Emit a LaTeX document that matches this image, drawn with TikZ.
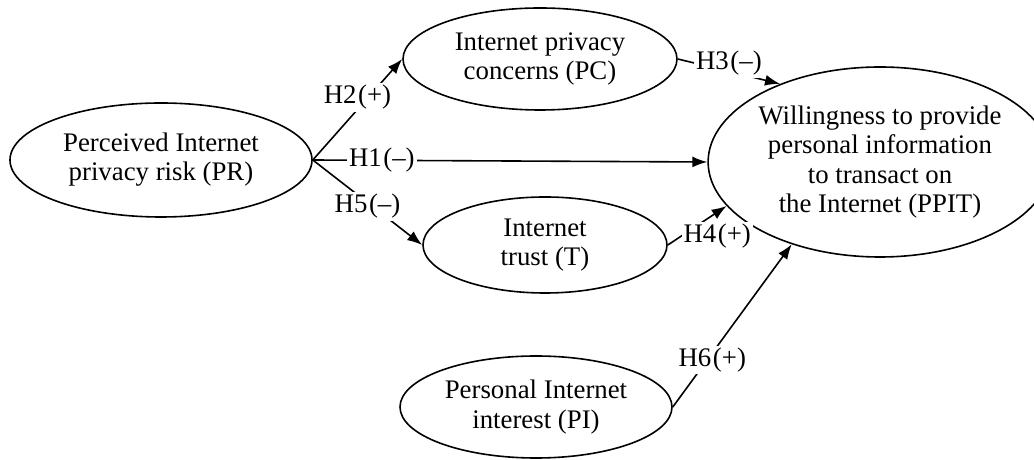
\documentclass[tikz,border=0pt]{standalone}
\usepackage{fontspec}
\setmainfont{Liberation Serif}
\usetikzlibrary{arrows.meta,shapes.geometric}

\begin{document}
\begin{tikzpicture}[x=0.5pt,y=0.5pt,
  var/.style={ellipse,draw,line width=0.8pt,inner sep=0pt,align=center,font=\fontsize{13.4}{14.6}\selectfont},
  hyp/.style={line width=0.8pt,-{Latex[length=7.5pt,width=5.5pt]}},
  hlabel/.style={fill=white,inner sep=1pt,font=\fontsize{13.4}{14.6}\selectfont}]
  \useasboundingbox (0,0) rectangle (1034,460);
  % constructs
  \node[var,minimum width=151pt,minimum height=57pt] (pr) at (161,300) {Perceived Internet\\privacy risk (PR)};
  \node[var,minimum width=137pt,minimum height=51pt] (pc) at (540,401) {Internet privacy\\concerns (PC)};
  \node[var,minimum width=122pt,minimum height=48pt] (tr) at (545,215) {Internet\\trust (T)};
  \node[var,minimum width=136pt,minimum height=51pt] (pin) at (536,53) {Personal Internet\\interest (PI)};
  \node[var,minimum width=151pt,minimum height=95pt] (ppit) at (880,298) {Willingness to provide\\personal information\\to transact on\\the Internet (PPIT)};
  % hypotheses
  \draw[hyp] (pr.east) -- node[hlabel,pos=0.5,yshift=6pt] {H2\kern0.8pt(+)} (pc.west);
  \draw[hyp] (pr.east) -- node[hlabel,pos=0.17,xshift=1pt] {H1\kern0.8pt(--)} (ppit.west);
  \draw[hyp] (pr.east) -- node[hlabel,pos=0.5,yshift=-2pt] {H5\kern0.8pt(--)} (tr.west);
  \draw[hyp] (pc.east) -- node[hlabel,pos=0.5,yshift=4pt] {H3\kern0.8pt(--)} (ppit.142);
  \draw[hyp] (tr.east) -- node[hlabel,pos=0.22,anchor=west] {H4\kern0.8pt(+)} (ppit.196);
  \draw[hyp] (pin.east) -- node[hlabel,pos=0.29,xshift=2.5pt] {H6\kern0.8pt(+)} (ppit.223);
\end{tikzpicture}
\end{document}
